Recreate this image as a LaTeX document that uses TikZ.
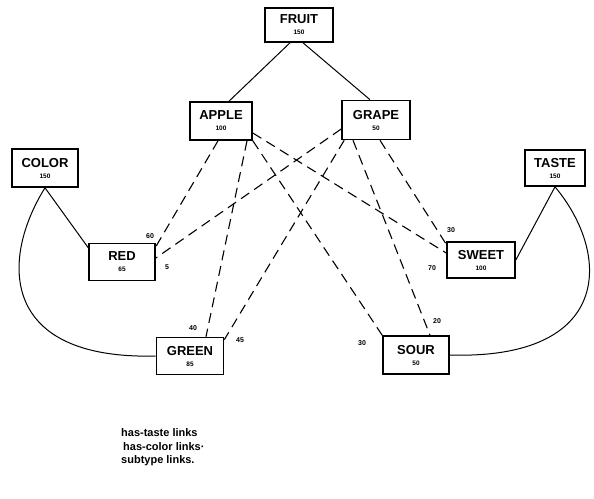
\documentclass[tikz,border=0pt]{standalone}
\usepackage{fontspec}
\setmainfont{Liberation Sans}
\begin{document}
\begin{tikzpicture}[x=1pt,y=-1pt,
  box/.style={draw,line width=1.6pt,rectangle,inner sep=0pt,align=center,font=\bfseries\fontsize{13}{13}\selectfont},
  num/.style={font=\bfseries\fontsize{6.5}{7}\selectfont,inner sep=0pt},
  wt/.style={font=\bfseries\fontsize{7}{8}\selectfont,inner sep=0pt},
  sub/.style={line width=1pt},
  lnk/.style={line width=1.1pt,dash pattern=on 10pt off 6pt},
  leg/.style={font=\bfseries\fontsize{11}{12}\selectfont,anchor=west,inner sep=0pt}]
\useasboundingbox (0,0) rectangle (594,498);
\newcommand{\nm}[2]{#1\\[-2pt]{\bfseries\fontsize{6.5}{7}\selectfont #2}}
\node[box,minimum width=68,minimum height=34] (fruit) at (299,25) {\nm{FRUIT}{150}};
\node[box,minimum width=62,minimum height=38] (apple) at (221,121) {\nm{APPLE}{100}};
\node[box,minimum width=68,minimum height=39] (grape) at (376,120) {\nm{GRAPE}{50}};
\node[box,minimum width=66,minimum height=38] (color) at (45,168) {\nm{COLOR}{150}};
\node[box,minimum width=60,minimum height=36] (taste) at (555,168) {\nm{TASTE}{150}};
\node[box,minimum width=66,minimum height=37] (red) at (122,262) {\nm{RED}{65}};
\node[box,minimum width=68,minimum height=36] (sweet) at (481,260) {\nm{SWEET}{100}};
\node[box,minimum width=67,minimum height=37] (green) at (190,356) {\nm{GREEN}{85}};
\node[box,minimum width=66,minimum height=38] (sour) at (416,355) {\nm{SOUR}{50}};
% subtype links
\draw[sub] ([xshift=-9pt]fruit.south) -- ([xshift=8pt]apple.north);
\draw[sub] ([xshift=4pt]fruit.south) -- ([xshift=-6pt]grape.north);
% has-color links
\draw[sub] (color.south) -- ([yshift=-5pt]red.north west);
\draw[sub] (color.south) .. controls (0,260) and (0,360) .. (green.west);
% has-taste links
\draw[sub] (taste.south) -- (sweet.east);
\draw[sub] (taste.south) .. controls (612,255) and (612,360) .. (sour.east);
% weighted links
\draw[lnk] ([xshift=-3pt]apple.south) -- ([yshift=-4pt]red.north east);
\draw[lnk] ([xshift=26pt]apple.south) -- ([xshift=16pt]green.north);
\draw[lnk] ([yshift=-12pt]apple.east) -- ([yshift=7pt]sweet.west);
\draw[lnk] (apple.south east) -- (sour.north west);
\draw[lnk] ([yshift=-9pt]grape.west) -- ([yshift=4pt]red.east);
\draw[lnk] ([xshift=3pt]grape.south west) -- ([yshift=-3pt]green.north east);
\draw[lnk] ([xshift=-23pt]grape.south) -- ([xshift=14pt]sour.north);
\draw[lnk] ([xshift=4pt]grape.south) -- ([yshift=-3pt]sweet.north west);
% weights
\node[wt] (w60) at (150,236) {60};
\node[wt] (w5) at (167,267) {5};
\node[wt] (w40) at (193,328) {40};
\node[wt] (w45) at (240,340) {45};
\node[wt] (w70) at (432,268) {70};
\node[wt] (w30a) at (451,230) {30};
\node[wt] (w30b) at (362,343) {30};
\node[wt] (w20) at (437,321) {20};
% legend
\node[leg] (l1) at (121,433) {has-taste links};
\node[leg] (l2) at (123,447) {has-color links·};
\node[leg] (l3) at (121,461) {subtype links.};
\end{tikzpicture}
\end{document}
